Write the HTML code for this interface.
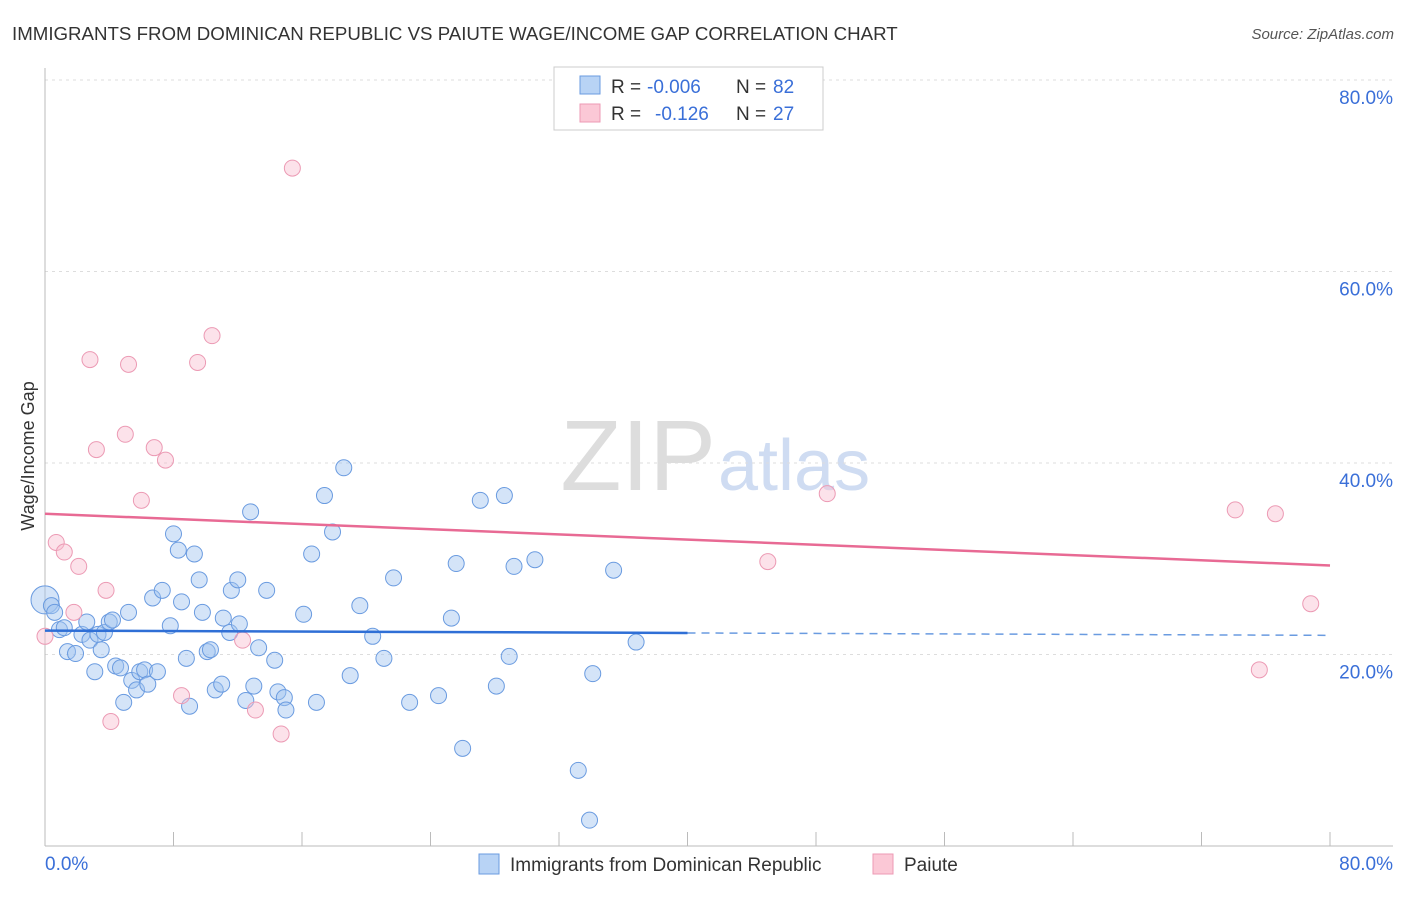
<!DOCTYPE html>
<html><head><meta charset="utf-8"><style>
body{margin:0;background:#fff;font-family:"Liberation Sans",sans-serif;}
svg text{font-family:"Liberation Sans",sans-serif;}
</style></head><body>
<svg id="c" width="1406" height="892" xmlns="http://www.w3.org/2000/svg">
<text x="12" y="40" font-size="18.7" fill="#333">IMMIGRANTS FROM DOMINICAN REPUBLIC VS PAIUTE WAGE/INCOME GAP CORRELATION CHART</text>
<text x="1394" y="39" font-size="15" fill="#555" font-style="italic" text-anchor="end">Source: ZipAtlas.com</text>
<text x="716" y="490" font-size="100" fill="#ddd" text-anchor="end" font-family="Liberation Serif">ZIP</text>
<text x="718" y="490" font-size="72" fill="#cfdcf2">atlas</text>
<text transform="translate(34,456) rotate(-90)" font-size="18" fill="#333" text-anchor="middle">Wage/Income Gap</text>
<g id="grid"></g><g id="marks"></g>
<g>
<rect x="554" y="67" width="269" height="63" fill="#fff" stroke="#ccc"/>
<rect x="580" y="76" width="20" height="18" fill="#b8d3f5" stroke="#6a9be0"/>
<rect x="580" y="104" width="20" height="18" fill="#fbc8d6" stroke="#ec9ab4"/>
<text x="611" y="93" font-size="19" fill="#333">R =</text>
<text x="647" y="93" font-size="19" fill="#3a6fd8">-0.006</text>
<text x="736" y="93" font-size="19" fill="#333">N =</text>
<text x="773" y="93" font-size="19" fill="#3a6fd8">82</text>
<text x="611" y="120" font-size="19" fill="#333">R =</text>
<text x="655" y="120" font-size="19" fill="#3a6fd8">-0.126</text>
<text x="736" y="120" font-size="19" fill="#333">N =</text>
<text x="773" y="120" font-size="19" fill="#3a6fd8">27</text>
</g>
<g>
<rect x="479" y="854" width="20" height="20" fill="#b8d3f5" stroke="#6a9be0"/>
<text x="510" y="871" font-size="19" fill="#333">Immigrants from Dominican Republic</text>
<rect x="873" y="854" width="20" height="20" fill="#fbc8d6" stroke="#ec9ab4"/>
<text x="904" y="871" font-size="19" fill="#333">Paiute</text>
</g>
</svg>
<script>
const yTicks=[20,40,60,80];
const yTickLabels=["20.0%","40.0%","60.0%","80.0%"];
const xEnds=["0.0%","80.0%"];
const blueX=[0.0,0.4,0.6,0.9,1.2,1.4,1.9,2.3,2.6,2.8,3.1,3.3,3.5,3.7,4.0,4.2,4.4,4.7,4.9,5.2,5.4,5.7,5.9,6.2,6.4,6.7,7.0,7.3,7.8,8.0,8.3,8.5,8.8,9.0,9.3,9.6,9.8,10.1,10.3,10.6,11.0,11.1,11.5,11.6,12.0,12.1,12.5,12.8,13.0,13.3,13.8,14.3,14.5,14.9,15.0,16.1,16.6,16.9,17.4,17.9,18.6,19.0,19.6,20.4,21.1,21.7,22.7,24.5,25.3,25.6,26.0,27.1,28.1,28.6,28.9,29.2,30.5,33.2,33.9,34.1,35.4,36.8];
const blueY=[25.7,25.1,24.4,22.6,22.8,20.3,20.1,22.1,23.4,21.5,18.2,22.1,20.5,22.3,23.4,23.6,18.8,18.6,15.0,24.4,17.3,16.3,18.2,18.4,16.9,25.9,18.2,26.7,23.0,32.6,30.9,25.5,19.6,14.6,30.5,27.8,24.4,20.3,20.5,16.3,16.9,23.8,22.3,26.7,27.8,23.2,15.2,34.9,16.7,20.7,26.7,19.4,16.1,15.5,14.2,24.2,30.5,15.0,36.6,32.8,39.5,17.8,25.1,21.9,19.6,28.0,15.0,15.7,23.8,29.5,10.2,36.1,16.7,36.6,19.8,29.2,29.9,7.9,2.7,18.0,28.8,21.3];
const pinkX=[0.0,0.7,1.2,1.8,2.1,2.8,3.2,3.8,4.1,5.0,5.2,6.0,6.8,7.5,8.5,9.5,10.4,12.3,13.1,14.7,15.4,45.0,48.7,74.1,76.6,75.6,78.8];
const pinkY=[21.9,31.7,30.7,24.4,29.2,50.8,41.4,26.7,13.0,43.0,50.3,36.1,41.6,40.3,15.7,50.5,53.3,21.5,14.2,11.7,70.8,29.7,36.8,35.1,34.7,18.4,25.3];
const blueTrend=[22.5,22.0];
const pinkTrend=[34.7,29.3];
const NS="http://www.w3.org/2000/svg";
const X=v=>45+v*1285/80, Y=v=>846-v*9.575;
function mk(t,a,p){const e=document.createElementNS(NS,t);for(const k in a)e.setAttribute(k,a[k]);p.appendChild(e);return e;}
const g=document.getElementById('grid'),m=document.getElementById('marks');
yTicks.forEach((t,i)=>{const l=mk('line',{x1:45,x2:1393,y1:Y(t),y2:Y(t),stroke:'#ddd','stroke-dasharray':'3,4'},g);


const tx=mk('text',{x:1393,y:Y(t)+24,'font-size':19,fill:'#3a6fd8','text-anchor':'end'},g);tx.textContent=yTickLabels[i];

});
mk('line',{x1:45,x2:45,y1:68,y2:846,stroke:'#bbb'},g);
mk('line',{x1:45,x2:1393,y1:846,y2:846,stroke:'#bbb'},g);
for(let i=0;i<=10;i++){const t=mk('line',{x1:X(i*8),x2:X(i*8),y1:832,y2:846,stroke:'#bbb'},g);

}
[[0,'start',45],[1,'end',1393]].forEach(([i,a,x])=>{const t=mk('text',{x:x,y:870,'font-size':19,fill:'#3a6fd8','text-anchor':a},g);t.textContent=xEnds[i];

});
blueX.forEach((v,i)=>{const c=mk('circle',{cx:X(v),cy:Y(blueY[i]),r:i==0?14:8,fill:'rgba(160,195,240,0.45)',stroke:'#6a9be0','stroke-width':1},m);

});
pinkX.forEach((v,i)=>{const c=mk('circle',{cx:X(v),cy:Y(pinkY[i]),r:8,fill:'rgba(248,190,208,0.45)',stroke:'#ec9ab4','stroke-width':1},m);

});
const by=x=>blueTrend[0]+(blueTrend[1]-blueTrend[0])*x/80;
const b1=mk('line',{x1:X(0),y1:Y(by(0)),x2:X(40),y2:Y(by(40)),stroke:'#2f6fd6','stroke-width':2.5},m);


const b2=mk('line',{x1:X(40),y1:Y(by(40)),x2:X(80),y2:Y(by(80)),stroke:'#6a9be0','stroke-width':1.5,'stroke-dasharray':'8,6'},m);


const p1=mk('line',{x1:X(0),y1:Y(pinkTrend[0]),x2:X(80),y2:Y(pinkTrend[1]),stroke:'#e86a94','stroke-width':2.5},m);


</script>
</body></html>
